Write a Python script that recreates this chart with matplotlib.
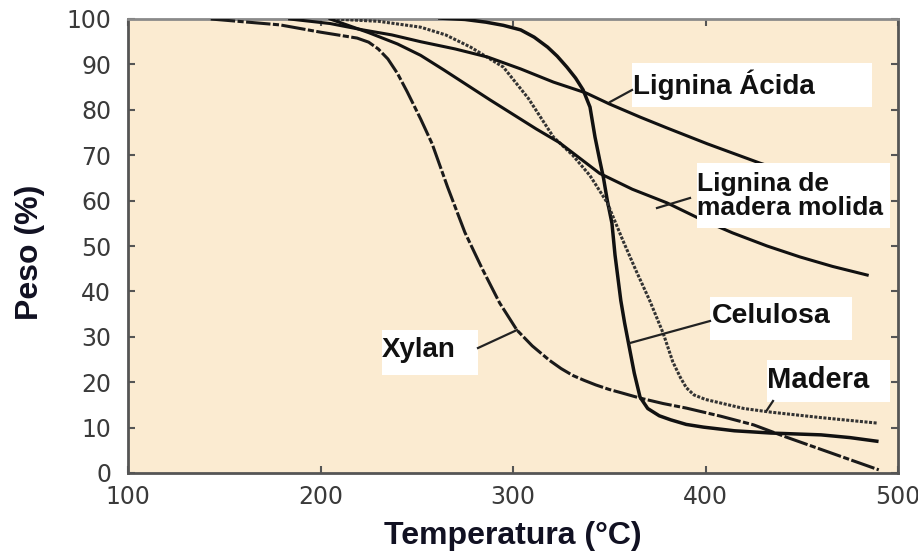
import matplotlib
matplotlib.use("Agg")
import matplotlib.pyplot as plt
from matplotlib.patches import Rectangle

# ---- data ----
xylan_T = [143, 179, 200, 219, 225, 230, 235, 240, 245, 252, 258, 266, 275, 284, 293, 302, 310, 319, 325, 331, 337, 343, 350, 356, 366, 378, 390, 408, 425, 442, 468, 490]
xylan_W = [100, 98.7, 97.1, 95.8, 94.9, 93.4, 91.2, 88, 84, 78, 72.5, 63, 53, 45, 37.5, 31.5, 28, 24.8, 23, 21.5, 20.4, 19.4, 18.4, 17.7, 16.5, 15.3, 14.3, 12.5, 10.6, 7.9, 4, 0.7]

celulosa_T = [262, 275, 286, 295, 304, 311, 318, 323, 328, 332.5, 336.4, 340, 342.6, 345, 347, 349, 351.4, 353, 356, 358, 360, 363, 366, 370, 376, 382, 390, 399, 415, 434, 460, 475, 489]
celulosa_W = [100.2, 99.9, 99.3, 98.6, 97.6, 96, 93.8, 91.8, 89.4, 87, 84.4, 80.6, 74, 69, 65, 60, 55, 48, 38, 33, 28.6, 22, 16.7, 14.2, 12.6, 11.7, 10.7, 10.1, 9.3, 8.8, 8.4, 7.8, 7]

madera_T = [206, 230, 252, 265, 278, 295, 308, 321, 331, 340, 349, 357, 364, 371, 378, 383, 387, 390, 394, 400, 408, 420, 434, 460, 489]
madera_W = [100, 99.5, 98.2, 96.5, 93.8, 89.4, 82.5, 74, 70, 65.5, 59.5, 51.3, 44.5, 38, 30.8, 24.5, 21, 18.8, 17.2, 16.2, 15.4, 14.2, 13.4, 12.2, 11]

lacida_T = [184, 205, 222, 237, 252, 270, 287, 304, 321, 338, 350, 366, 380, 401, 428, 455, 480]
lacida_W = [100, 99, 97.6, 96.5, 95, 93.4, 91.6, 89, 86.1, 83.7, 81.3, 78.4, 76, 72.5, 68.3, 64.5, 61]

lmm_T = [205, 225, 240, 252, 264, 276, 288, 300, 312, 324, 345, 362, 380, 397, 414, 432, 449, 466, 484]
lmm_W = [100, 97, 94.5, 92, 88.8, 85.5, 82.2, 79, 75.8, 72.8, 66, 62.5, 59.5, 56, 52.9, 50, 47.6, 45.5, 43.6]

x_ticks = [100, 200, 300, 400, 500]
y_ticks = [0, 10, 20, 30, 40, 50, 60, 70, 80, 90, 100]

# ---- figure ----
W_PX, H_PX = 918, 552
fig = plt.figure(figsize=(W_PX / 100, H_PX / 100), dpi=100)
L, R, T, B = 128, 898, 19, 473
ax = fig.add_axes([L / W_PX, 1 - B / H_PX, (R - L) / W_PX, (B - T) / H_PX])
ax.set_facecolor('#FBEBD1')
ax.set_xlim(100, 500)
ax.set_ylim(0, 100)


def px(x, y):
    return 100 + (x - L) * 400 / (R - L), (B - y) * 100 / (B - T)


lw = 2.2
ax.plot(xylan_T, xylan_W, color='#1a1a1a', lw=lw, ls=(0, (8, 0.8, 2, 0.8)), zorder=3)
ax.plot(celulosa_T, celulosa_W, color='#111111', lw=2.5, zorder=3)
ax.plot(madera_T, madera_W, color='#333333', lw=2.2, ls=(0, (1, 0.5)), zorder=3)
ax.plot(lacida_T, lacida_W, color='#111111', lw=lw, zorder=3)
ax.plot(lmm_T, lmm_W, color='#111111', lw=lw, zorder=3)

# label boxes (pixel rectangles) and texts
labels = [
    # box x0, y0, x1, y1, text x, text y, text, size, pointer from (px), pointer to (px)
    (632, 63, 872, 107, 633, 85, 'Lignina Ácida', 20, (610, 102), (632, 90)),
    (697, 163, 890, 228, 697, 196, 'Lignina de\nmadera molida', 19, (657, 208), (690, 198)),
    (710, 297, 852, 340, 712, 316, 'Celulosa', 20.5, (630, 343), (710, 321)),
    (767, 360, 890, 402, 767, 380, 'Madera', 21, (767, 410), (773, 401)),
    (382, 330, 478, 375, 382, 350, 'Xylan', 20, (478, 348), (517, 330)),
]
for x0, y0, x1, y1, tx, ty, txt, fs, p0, p1 in labels:
    a = px(x0, y1)
    b = px(x1, y0)
    ax.add_patch(Rectangle(a, b[0] - a[0], b[1] - a[1], facecolor='white',
                           edgecolor='none', zorder=4))
    tpos = px(tx, ty)
    ax.text(tpos[0], tpos[1], txt, fontsize=fs, fontweight='bold',
            family='Liberation Sans', color='#111111', ha='left', va='center',
            linespacing=1.0, zorder=5)
    q0 = px(*p0)
    q1 = px(*p1)
    ax.plot([q0[0], q1[0]], [q0[1], q1[1]], color='#222222', lw=1.6, zorder=4)

# ticks and spines
ax.set_xticks(x_ticks)
ax.set_yticks(y_ticks)
ax.tick_params(axis='both', direction='in', length=5, width=1.5, colors='#555555',
               top=True, right=True, labelsize=17, labelcolor='#3a3a3a')
ax.tick_params(axis='y', pad=12)
ax.tick_params(axis='x', pad=9)
for s in ax.spines.values():
    s.set_color('#555555')
    s.set_linewidth(2)
ax.spines['top'].set_color('#8a8a8a')
for lab in ax.get_xticklabels() + ax.get_yticklabels():
    lab.set_family('DejaVu Sans')

ax.set_xlabel('Temperatura (°C)', fontsize=23, fontweight='bold',
              family='Liberation Sans', color='#111122')
ax.xaxis.set_label_coords(0.5, -0.105)
ax.set_ylabel('Peso (%)', fontsize=23, fontweight='bold',
              family='Liberation Sans', color='#111122')
ax.yaxis.set_label_coords(-0.108, 0.487)

fig.savefig('out.png', dpi=100, facecolor='white')
